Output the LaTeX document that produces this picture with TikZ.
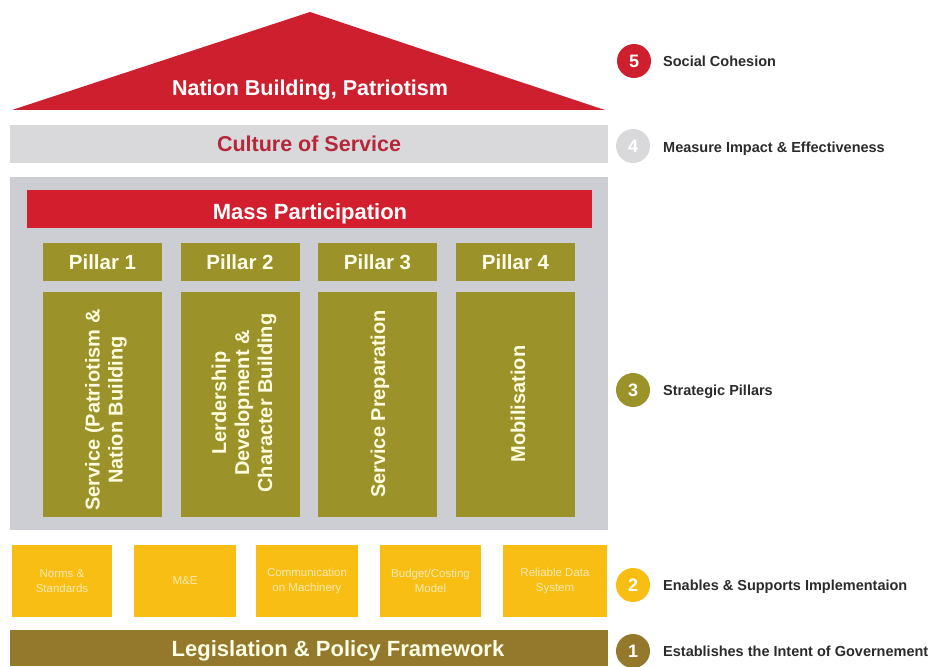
\documentclass[tikz,border=0pt]{standalone}
\usepackage{fontspec}
\setmainfont{Liberation Sans}
\usepackage{tikz}

\definecolor{roofred}{HTML}{CE1F2E}
\definecolor{barred}{HTML}{D21E2D}
\definecolor{cultgrey}{HTML}{D9D9DB}
\definecolor{cultred}{HTML}{B5283A}
\definecolor{panelgrey}{HTML}{CDCED4}
\definecolor{olive}{HTML}{9B922A}
\definecolor{goldbox}{HTML}{F9BE14}
\definecolor{lawbrown}{HTML}{94792C}
\definecolor{labelgrey}{HTML}{2B2B2B}

\begin{document}
\begin{tikzpicture}[x=1pt,y=-1pt,
  every node/.style={inner sep=0pt,font=\bfseries},
  capline/.style={text height=#1,text depth=0pt},
  widebar/.style={minimum width=598pt,minimum height=38pt},
  pillarhead/.style={capline=14.8pt,fill=olive,text=white!92!yellow,minimum width=119pt,minimum height=38pt,font=\bfseries\fontsize{20.5}{22}\selectfont},
  pillarbody/.style={fill=olive,minimum width=119pt,minimum height=225pt},
  pillartext/.style={rotate=90,align=center,text=white!88!yellow,font=\bfseries\fontsize{20}{23}\selectfont},
  support/.style={fill=goldbox,text=white!68!goldbox,minimum height=72pt,align=center,font=\fontsize{11.5}{15}\selectfont},
  stepno/.style={circle,minimum size=34pt,text=white,font=\bfseries\fontsize{18}{18}\selectfont},
  steptext/.style={capline=10.4pt,anchor=west,text=labelgrey,font=\bfseries\fontsize{14.5}{16}\selectfont}]

\useasboundingbox (0,0) rectangle (936,666);

% roof
\coordinate (roofl) at (12,110);
\coordinate (rooft) at (310,12);
\coordinate (roofr) at (605,110);
\fill[roofred] (roofl) -- (rooft) -- (roofr) -- cycle;
\node[capline=15.5pt,text=white,font=\bfseries\fontsize{21.5}{23}\selectfont] (nation) at (310,88) {Nation Building, Patriotism};

% culture of service
\node[widebar,capline=15.5pt,fill=cultgrey,text=cultred,font=\bfseries\fontsize{21.5}{23}\selectfont] (culture) at (309,144) {Culture of Service};

% pillars panel
\node[fill=panelgrey,minimum width=598pt,minimum height=353pt] (panel) at (309,353.5) {};
\node[fill=barred,minimum width=565pt,minimum height=38pt] (mass) at (309.5,209) {};
\node[capline=15.8pt,text=white,font=\bfseries\fontsize{22}{24}\selectfont] (masstext) at (310,212) {Mass Participation};

\node[pillarhead] (p1) at (102.5,262) {Pillar 1};
\node[pillarhead] (p2) at (240,262) {Pillar 2};
\node[pillarhead] (p3) at (377.5,262) {Pillar 3};
\node[pillarhead] (p4) at (515.5,262) {Pillar 4};

\node[pillarbody] (b1) at (102.5,404.5) {};
\node[pillarbody] (b2) at (240,404.5) {};
\node[pillarbody] (b3) at (377.5,404.5) {};
\node[pillarbody] (b4) at (515.5,404.5) {};

\node[pillartext] (t1) at (106,410) {Service (Patriotism \&\\Nation Building};
\node[pillartext] (t2) at (244,403) {Lerdership\\Development \&\\Character Building};
\node[pillartext] (t3) at (380,404) {Service Preparation};
\node[pillartext] (t4) at (518,404) {Mobilisation};

% support boxes
\node[support,minimum width=100pt] (norms) at (62,581) {Norms \&\\Standards};
\node[support,minimum width=102pt] (mande) at (185,581) {M\&E};
\node[support,minimum width=102pt] (comms) at (307,581) {Communication\\on Machinery};
\node[support,minimum width=101pt] (budget) at (430.5,581) {Budget/Costing\\Model};
\node[support,minimum width=104pt] (data) at (555,581) {Reliable Data\\System};

% legislation
\node[fill=lawbrown,minimum width=598pt,minimum height=36pt] (law) at (309,648) {};
\node[capline=15.8pt,text=white!90!yellow,font=\bfseries\fontsize{22}{24}\selectfont] (lawtext) at (338,648.5) {Legislation \& Policy Framework};

% levels
\node[stepno,fill=roofred] (n5) at (634,61) {5};
\node[stepno,fill=cultgrey] (n4) at (633,146) {4};
\node[stepno,fill=olive] (n3) at (633,390) {3};
\node[stepno,fill=goldbox] (n2) at (633,585) {2};
\node[stepno,fill=lawbrown] (n1) at (633,651) {1};

\node[steptext] (l5) at (663,61) {Social Cohesion};
\node[steptext] (l4) at (663,147) {Measure Impact \& Effectiveness};
\node[steptext] (l3) at (663,390) {Strategic Pillars};
\node[steptext] (l2) at (663,585) {Enables \& Supports Implementaion};
\node[steptext] (l1) at (663,651) {Establishes the Intent of Governement};

\end{tikzpicture}
\end{document}
